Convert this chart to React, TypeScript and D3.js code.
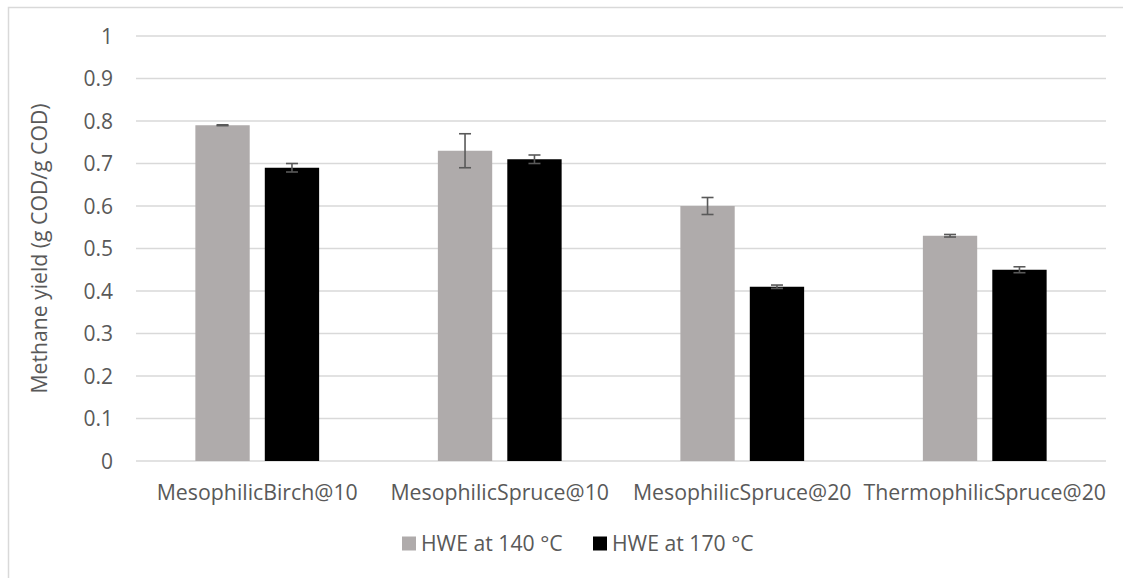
import React from "react";
import * as d3 from "d3";

const categories = [
  "MesophilicBirch@10",
  "MesophilicSpruce@10",
  "MesophilicSpruce@20",
  "ThermophilicSpruce@20",
];
const seriesNames = ["HWE at 140 °C", "HWE at 170 °C"];
const hwe140 = [0.79, 0.73, 0.6, 0.53];
const hwe140Err = [0.001, 0.04, 0.02, 0.003];
const hwe170 = [0.69, 0.71, 0.41, 0.45];
const hwe170Err = [0.01, 0.01, 0.004, 0.007];
const yTicks = [0, 0.1, 0.2, 0.3, 0.4, 0.5, 0.6, 0.7, 0.8, 0.9, 1];
const yTitle = "Methane yield (g COD/g COD)";

const W = 1123;
const H = 578;
const FONT = "'Open Sans', sans-serif";
const TEXT = "#595959";
const GRID = "#D9D9D9";
const colors = ["#AFABAB", "#000000"];

export default function App() {
  const x = d3.scaleBand<string>().domain(categories).range([136, 1106]).padding(0);
  const xs = d3
    .scaleBand<string>()
    .domain(seriesNames)
    .range([0, x.bandwidth()])
    .paddingInner(0.2174)
    .paddingOuter(0.855);
  const y = d3.scaleLinear().domain([0, 1]).range([461, 36]);

  const series = [
    { name: seriesNames[0], values: hwe140, errs: hwe140Err, color: colors[0] },
    { name: seriesNames[1], values: hwe170, errs: hwe170Err, color: colors[1] },
  ];

  const fmt = (v: number) => (v === 0 || v === 1 ? String(v) : v.toFixed(1));
  const capHalf = 6;

  return (
    <svg
      width={W}
      height={H}
      style={{ position: "absolute", left: 0, top: 0, background: "#fff" }}
      fontFamily={FONT}
    >
      <rect x={8.5} y={7.5} width={1200} height={700} fill="#fff" stroke={GRID} strokeWidth={1.5} />

      {/* gridlines */}
      {yTicks.map((t) => (
        <line
          key={t}
          x1={136}
          x2={1106}
          y1={y(t)}
          y2={y(t)}
          stroke={GRID}
          strokeWidth={1.3}
        />
      ))}

      {/* y tick labels */}
      {yTicks.map((t) => (
        <text
          key={"l" + t}
          x={113}
          y={y(t)}
          dy="0.36em"
          textAnchor="end"
          fontSize={21}
          fill={TEXT}
        >
          {fmt(t)}
        </text>
      ))}

      {/* bars */}
      {series.map((s) =>
        categories.map((c, i) => (
          <rect
            key={s.name + c}
            x={(x(c) ?? 0) + (xs(s.name) ?? 0)}
            y={y(s.values[i])}
            width={xs.bandwidth()}
            height={y(0) - y(s.values[i])}
            fill={s.color}
          />
        ))
      )}

      {/* error bars */}
      {series.map((s) =>
        categories.map((c, i) => {
          const cx = (x(c) ?? 0) + (xs(s.name) ?? 0) + xs.bandwidth() / 2;
          const top = y(s.values[i] + s.errs[i]);
          const bot = y(s.values[i] - s.errs[i]);
          return (
            <g key={"e" + s.name + c} stroke="#595959" strokeWidth={1.6}>
              <line x1={cx} x2={cx} y1={top} y2={bot} />
              <line x1={cx - capHalf} x2={cx + capHalf} y1={top} y2={top} />
              <line x1={cx - capHalf} x2={cx + capHalf} y1={bot} y2={bot} />
            </g>
          );
        })
      )}

      {/* category labels */}
      {categories.map((c) => (
        <text
          key={"c" + c}
          x={(x(c) ?? 0) + x.bandwidth() / 2}
          y={500}
          textAnchor="middle"
          fontSize={21.3}
          fill={TEXT}
        >
          {c}
        </text>
      ))}

      {/* y axis title */}
      <text
        transform={`translate(47,${y(0.5)}) rotate(-90)`}
        textAnchor="middle"
        fontSize={21.2}
        fill={TEXT}
      >
        {yTitle}
      </text>

      {/* legend */}
      {series.map((s, i) => {
        const lx = i === 0 ? 402 : 593;
        return (
          <g key={"lg" + s.name}>
            <rect x={lx} y={536.5} width={14} height={14} fill={s.color} />
            <text x={lx + 19} y={551} fontSize={21.2} fill={TEXT}>
              {s.name}
            </text>
          </g>
        );
      })}
    </svg>
  );
}
